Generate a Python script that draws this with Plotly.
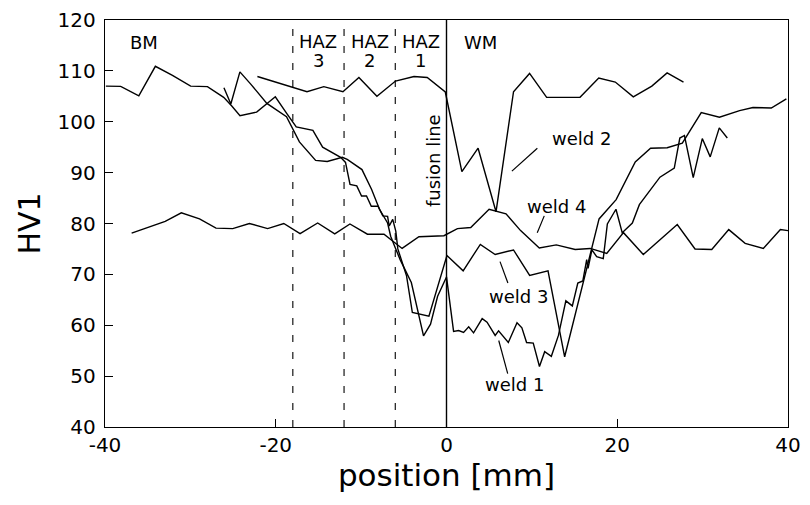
import plotly.graph_objects as go

# ---- data (HV1 hardness profiles across the weld) ----
weld1_x = [-26.07, -25.26, -24.2, -22.93, -21.04, -18.74, -17.23, -15.33, -13.97, -12.2, -11.63, -9.9,
           -8.77, -7.85, -6.9, -6.54, -5.99, -5.43, -4.12, -2.69, -1.87, -1.04, 0.0, 0.83, 1.42, 2.0,
           2.6, 3.17, 4.18, 4.75, 5.7, 6.1, 7.24, 8.26, 8.83, 9.38, 10.16, 10.89, 11.5, 12.28, 13.11,
           13.98, 14.74, 15.38, 15.97, 16.42, 16.58, 17.03, 17.59, 18.36, 18.84, 19.85, 20.58, 21.77,
           22.59, 25.0, 26.68, 27.33, 27.87, 28.9, 29.96, 30.89, 31.95, 32.89]
weld1_y = [106.7, 103.5, 109.8, 107.4, 103.6, 101.0, 96.05, 92.4, 92.2, 93.0, 92.6, 90.6,
           86.7, 82.8, 80.1, 77.5, 75.2, 72.9, 68.4, 57.9, 60.2, 65.7, 69.5, 58.8, 58.97, 58.6,
           59.7, 58.5, 61.3, 60.6, 58.0, 58.9, 56.6, 60.5, 59.5, 56.6, 56.5, 51.9, 54.8, 53.9, 58.0,
           64.8, 63.8, 68.3, 68.7, 72.9, 71.2, 74.8, 73.5, 73.1, 79.9, 82.8, 78.2, 80.1,
           83.7, 89.1, 90.9, 96.8, 97.3, 89.0, 96.7, 93.1, 98.8, 96.8]

weld2_x = [-22.15, -16.34, -14.37, -12.13, -10.26, -8.15, -5.97, -3.81, -2.26, -0.14, 1.80, 3.70,
           5.80, 7.85, 9.73, 11.73, 15.64, 17.83, 19.77, 21.88, 24.05, 25.84, 27.76]
weld2_y = [108.9, 105.9, 106.9, 105.9, 108.7, 105.0, 108.0, 108.9, 108.7, 105.85, 90.2, 94.8,
           82.3, 105.9, 109.5, 104.8, 104.8, 108.6, 107.8, 104.9, 107.0, 109.6, 107.8]

weld3_x = [-39.9, -38.16, -36.04, -34.1, -32.1, -29.97, -28.0, -26.1, -25.15, -24.19, -22.24, -20.05,
           -18.7, -17.6, -15.65, -14.51, -12.4, -11.83, -11.3, -10.51, -9.95, -9.37, -8.81, -8.02,
           -7.46, -6.9, -6.71, -6.3, -5.94, -5.7, -4.68, -4.0, -2.06, 0.05, 1.95, 3.96, 5.7, 7.85,
           9.74, 11.89, 13.84, 17.87, 19.87, 22.11, 23.9, 25.85, 27.62, 29.84, 31.97, 34.33, 35.9,
           38.04, 39.81]
weld3_y = [107.0, 106.95, 105.1, 110.9, 109.1, 107.0, 106.9, 104.8, 103.1, 101.2, 101.9, 104.9,
           101.6, 99.0, 98.3, 95.0, 93.0, 92.0, 87.7, 87.4, 85.4, 85.4, 83.4, 83.4,
           81.5, 81.4, 79.5, 80.8, 78.5, 75.0, 69.7, 62.5, 61.8, 73.7, 70.7, 75.9, 73.9, 74.8,
           69.8, 70.7, 53.8, 80.9, 84.7, 92.1, 94.8, 94.9, 95.8, 101.8, 100.9, 102.2, 102.8,
           102.7, 104.5]

weld4_x = [-36.88, -34.6, -32.95, -31.06, -28.93, -27.0, -25.04, -23.09, -20.95, -19.06, -17.15,
           -15.09, -13.09, -11.31, -9.26, -7.32, -5.2, -3.23, -0.3, 1.28, 2.84, 4.99, 6.97, 8.68,
           10.87, 12.86, 15.07, 16.83, 18.77, 20.73, 23.05, 27.03, 29.11, 31.07, 33.06, 34.98,
           37.11, 39.11, 40.0]
weld4_y = [78.1, 79.5, 80.4, 82.1, 80.9, 79.1, 79.0, 80.0, 79.0, 80.0, 78.0,
           80.1, 77.95, 79.9, 77.9, 77.9, 75.1, 77.4, 77.6, 79.0, 79.2, 82.8, 81.9, 78.6,
           75.2, 75.8, 74.9, 75.1, 74.1, 78.2, 73.9, 79.8, 75.0, 74.9, 78.8, 76.1,
           75.1, 78.8, 78.6]

haz_bounds = [-18, -12, -6]
fusion_x = 0
x_ticks = [-40, -20, 0, 20, 40]
y_ticks = [40, 50, 60, 70, 80, 90, 100, 110, 120]

FONT = "DejaVu Sans, Liberation Sans, Arial, sans-serif"

fig = go.Figure()
for xs, ys in [(weld1_x, weld1_y), (weld2_x, weld2_y), (weld3_x, weld3_y), (weld4_x, weld4_y)]:
    fig.add_trace(go.Scatter(x=xs, y=ys, mode="lines",
                             line=dict(color="black", width=1.4),
                             showlegend=False, hoverinfo="skip"))

shapes = []
for hb in haz_bounds:
    shapes.append(dict(type="line", xref="x", yref="y", x0=hb, x1=hb, y0=40, y1=120,
                       line=dict(color="black", width=1.1, dash="7px,10px")))
shapes.append(dict(type="line", xref="x", yref="y", x0=fusion_x, x1=fusion_x, y0=40, y1=120,
                   line=dict(color="black", width=1.4)))

# label pointer lines
pointers = [((7.66, 90.3), (10.64, 94.8)),   # weld 2
            ((10.63, 78.2), (11.45, 81.5)),  # weld 4
            ((6.27, 72.5), (7.19, 68.3)),    # weld 3
            ((6.12, 57.0), (7.17, 50.5))]    # weld 1
for (xa, ya), (xb, yb) in pointers:
    shapes.append(dict(type="line", xref="x", yref="y", x0=xa, y0=ya, x1=xb, y1=yb,
                       line=dict(color="black", width=1.2)))

ann_font = dict(family=FONT, size=18, color="black")
annotations = [
    dict(x=-37.3, y=115.5, text="BM", xanchor="left"),
    dict(x=-15, y=115.8, text="HAZ"),
    dict(x=-15, y=112.0, text="3"),
    dict(x=-9, y=115.8, text="HAZ"),
    dict(x=-9, y=112.0, text="2"),
    dict(x=-3, y=115.8, text="HAZ"),
    dict(x=-3, y=112.0, text="1"),
    dict(x=1.8, y=115.5, text="WM", xanchor="left"),
    dict(x=15.8, y=96.8, text="weld 2"),
    dict(x=12.9, y=83.4, text="weld 4"),
    dict(x=8.4, y=65.6, text="weld 3"),
    dict(x=8.0, y=48.3, text="weld 1"),
    dict(x=-1.5, y=92.4, text="fusion line", textangle=-90),
]
for a in annotations:
    a.setdefault("font", ann_font)
    a.update(xref="x", yref="y", showarrow=False)

fig.update_layout(
    width=802, height=497,
    margin=dict(l=97, r=22, t=12, b=78),
    paper_bgcolor="white", plot_bgcolor="white",
    shapes=shapes, annotations=annotations,
    font=dict(family=FONT, color="black"),
    xaxis=dict(range=[-40, 40], tickvals=x_ticks, ticktext=[str(v) for v in x_ticks],
               ticks="inside", ticklen=8, tickcolor="black", tickwidth=1.2,
               showline=True, linecolor="black", linewidth=1.4, mirror=True,
               showgrid=False, zeroline=False, ticklabelstandoff=0, automargin=False,
               tickfont=dict(family=FONT, size=20),
               title=dict(text="position [mm]", font=dict(family=FONT, size=31), standoff=4)),
    yaxis=dict(range=[40, 120], tickvals=y_ticks, ticktext=[str(v) for v in y_ticks],
               ticks="inside", ticklen=8, tickcolor="black", tickwidth=1.2,
               showline=True, linecolor="black", linewidth=1.4, mirror=True,
               showgrid=False, zeroline=False, ticklabelstandoff=4, automargin=False,
               tickfont=dict(family=FONT, size=20),
               title=dict(text="HV1", font=dict(family=FONT, size=30), standoff=8)),
)

fig.write_html("out.html")
